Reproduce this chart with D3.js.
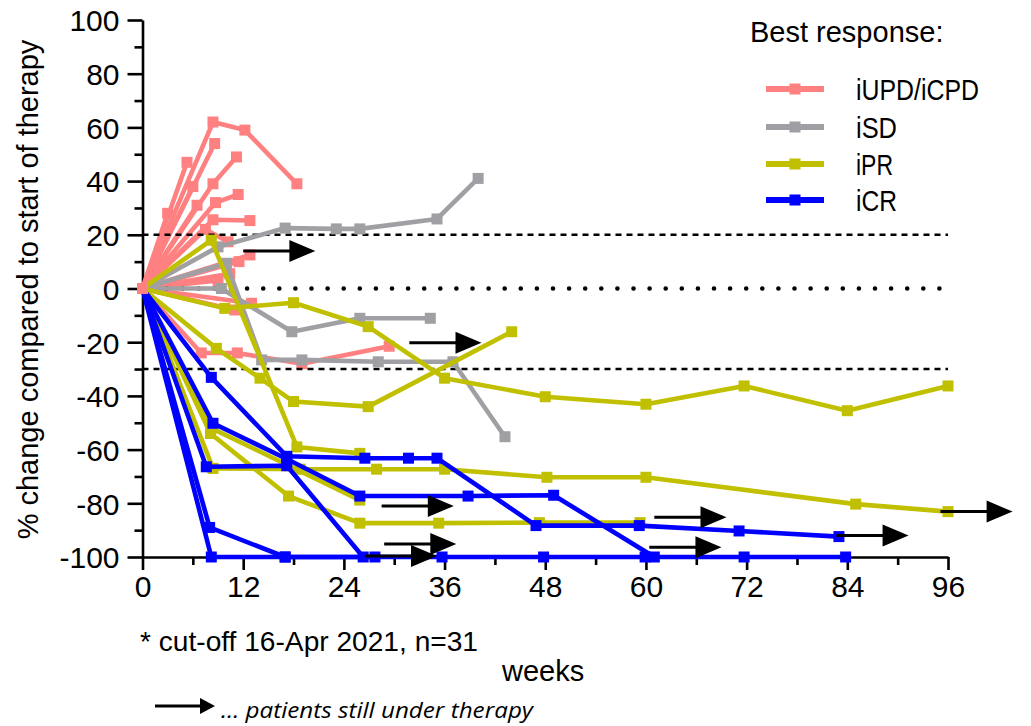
<!DOCTYPE html>
<html><head><meta charset="utf-8">
<script src="https://cdn.jsdelivr.net/npm/d3@7/dist/d3.min.js"></script>
<style>body{margin:0;background:#fff}svg{display:block}</style>
</head><body>
<script>
// Tick values
const weekTicks = [0, 12, 24, 36, 48, 60, 72, 84, 96];
const weekMinorTicks = [6, 18, 30, 42, 54, 66, 78, 90];
const pctTicks = [-100, -80, -60, -40, -20, 0, 20, 40, 60, 80, 100];
const pctMinorTicks = [-90, -70, -50, -30, -10, 10, 30, 50, 70, 90];

// Response thresholds
const dashedLevels = [20, -30];
const dottedLevels = [0];

// Legend
const responseNames = ["iUPD/iCPD", "iSD", "iPR", "iCR"];
const responseColors = ["#FF8080", "#A0A0A4", "#C0C000", "#0000FF"];

// Patients, [week, % change] per visit, grouped by best response
const upd = [
  [[0,0],[8.4,62],[12.2,59],[18.4,39]],
  [[0,0],[8.6,54]],
  [[0,0],[5.3,47]],
  [[0,0],[8.4,39],[11.2,49]],
  [[0,0],[8.7,32],[11.4,35]],
  [[0,0],[3,28]],
  [[0,0],[6,38]],
  [[0,0],[6.5,31]],
  [[0,0],[8.4,25.6],[12.8,25.3]],
  [[0,0],[7.5,22],[10.2,17.4]],
  [[0,0],[12.8,12.5]],
  [[0,0],[11.5,10]],
  [[0,0],[10.4,5.5]],
  [[0,0],[9,3]],
  [[0,0],[13,-5.5]],
  [[0,0],[7,-24],[11.3,-24],[19,-28],[29.4,-21.5]],
  [[0,0],[11,-8]]
];
const sd = [
  [[0,0],[9,15.5],[17,22.5],[23.1,22.2],[25.9,22.2],[35.1,25.9],[40,41]],
  [[0,0],[10,9.4],[14.2,-26.6],[19,-26.6],[28.1,-27.3],[37,-27.3],[43.2,-55.2]],
  [[0,0],[9.4,0],[17.8,-16.1],[25.9,-11.1],[34.3,-11.1]]
];
const pr = [
  [[0,0],[9.8,-7.4],[18,-5.3],[26.9,-14.2],[36,-33.4],[48,-40.3],[60,-43.1],[71.7,-36.3],[84,-45.5],[96,-36.3]],
  [[0,0],[8.2,18],[18.4,-59],[25.9,-61.4]],
  [[0,0],[8.8,-22.3],[14,-33.4],[18,-42.1],[26.9,-44],[44,-16.1]],
  [[0,0],[8.4,-67],[18.8,-67.3],[27.9,-67.3],[36,-67.3],[48.2,-70.3],[60,-70.3],[85,-80.3],[96,-83.1]],
  [[0,0],[8.1,-54],[17.4,-77.3],[25.9,-87.4],[35.3,-87.4],[47.3,-87.2],[59.3,-87.2]],
  [[0,0],[8.2,-52],[25.9,-78.8]]
];
const cr = [
  [[0,0],[8.2,-33.1],[17.2,-62.5],[26.5,-63.2],[31.7,-63.2],[35.1,-63.2],[46.9,-88.3],[59.2,-88.3],[71.1,-90.3],[83,-92.4]],
  [[0,0],[8.4,-50.2],[17.2,-63.5],[25.9,-77.3],[38.8,-77.3],[49,-77],[61,-100]],
  [[0,0],[7.6,-66.4],[17.2,-66],[26.3,-100]],
  [[0,0],[8,-89],[17,-100],[27.7,-100]],
  [[0,0],[8.2,-100],[17,-100],[35.7,-100],[47.8,-100],[59.9,-100],[71.7,-100],[83.8,-100]]
];

// Patients still under therapy: arrow start [week, % change]
const ongoing = [[12.0,14],[31.8,-20.2],[28.5,-81],[28.8,-95.2],[26.5,-99.6],[61.0,-85.2],[60.4,-96.4],[82.7,-92.0],[95.1,-83.1]];
const arrowWeeks = 8.6;

const W = 1031, H = 726;
const FONT = "'Liberation Sans', Arial, sans-serif";
const svg = d3.select("body").append("svg").attr("width", W).attr("height", H)
  .style("font-family", FONT);

const x = d3.scaleLinear().domain([0, 96]).range([142.5, 948]);
const y = d3.scaleLinear().domain([-100, 100]).range([557, 20]);
const plain = d => String(d);

// Axes
const xAxis = svg.append("g").attr("transform", `translate(0,${y(-100)})`)
  .call(d3.axisBottom(x).tickValues(weekTicks).tickFormat(plain).tickSize(13).tickPadding(6).tickSizeOuter(0));
svg.append("g").attr("transform", `translate(0,${y(-100)})`)
  .call(d3.axisBottom(x).tickValues(weekMinorTicks).tickSize(8).tickFormat("").tickSizeOuter(0))
  .select(".domain").remove();
const yAxis = svg.append("g").attr("transform", `translate(${x(0)},0)`)
  .call(d3.axisLeft(y).tickValues(pctTicks).tickFormat(plain).tickSize(15).tickPadding(8).tickSizeOuter(0));
svg.append("g").attr("transform", `translate(${x(0)},0)`)
  .call(d3.axisLeft(y).tickValues(pctMinorTicks).tickSize(8).tickFormat("").tickSizeOuter(0))
  .select(".domain").remove();
svg.selectAll(".domain, .tick line").attr("stroke", "#000").attr("stroke-width", 2.6);
xAxis.selectAll("text").attr("font-size", 30).attr("fill", "#000").attr("font-family", FONT);
yAxis.selectAll("text").attr("font-size", 30).attr("fill", "#000").attr("font-family", FONT).attr("dy", "0.36em");

const line = d3.line().x(d => x(d[0])).y(d => y(d[1]));
const MS = 11;

function drawGroup(data, color) {
  const g = svg.append("g");
  g.selectAll("path").data(data).join("path")
    .attr("d", line).attr("fill", "none").attr("stroke", color)
    .attr("stroke-width", 4.6).attr("stroke-linejoin", "round");
  g.selectAll("rect").data(data.flat().filter(d => d[0] > 0)).join("rect")
    .attr("x", d => x(d[0]) - MS / 2).attr("y", d => y(d[1]) - MS / 2)
    .attr("width", MS).attr("height", MS).attr("fill", color);
}

drawGroup(upd, responseColors[0]);

// Threshold lines
svg.selectAll(".dash").data(dashedLevels).join("line")
  .attr("x1", x(0)).attr("x2", x(96)).attr("y1", d => y(d)).attr("y2", d => y(d))
  .attr("stroke", "#000").attr("stroke-width", 2.4).attr("stroke-dasharray", "6,5");
svg.selectAll(".dot").data(dottedLevels).join("line")
  .attr("x1", x(0) + 8).attr("x2", x(95.5)).attr("y1", d => y(d)).attr("y2", d => y(d))
  .attr("stroke", "#000").attr("stroke-width", 4.6).attr("stroke-linecap", "round")
  .attr("stroke-dasharray", "0,16.1");

drawGroup(sd, responseColors[1]);
drawGroup(pr, responseColors[2]);
drawGroup(cr, responseColors[3]);

// Baseline marker
svg.append("rect").attr("x", x(0) - MS / 2).attr("y", y(0) - MS / 2)
  .attr("width", MS).attr("height", MS).attr("fill", responseColors[0]);

// Arrows for ongoing therapy
function arrow(g, x0, x1, yy, headLen, headHalf, sw) {
  g.append("line").attr("x1", x0).attr("x2", x1 - headLen + 2).attr("y1", yy).attr("y2", yy)
    .attr("stroke", "#000").attr("stroke-width", sw);
  g.append("path").attr("d", `M${x1},${yy}L${x1 - headLen},${yy - headHalf}L${x1 - headLen},${yy + headHalf}Z`)
    .attr("fill", "#000");
}
const ag = svg.append("g");
ongoing.forEach(d => arrow(ag, x(d[0]), x(d[0] + arrowWeeks), y(d[1]), 26, 11, 3));

// Axis titles
svg.append("text").attr("transform", `translate(38,${y(0) + 1}) rotate(-90)`)
  .attr("text-anchor", "middle").attr("font-size", 29).attr("fill", "#000")
  .text("% change compared to start of therapy");
svg.append("text").attr("x", 502).attr("y", 681).attr("font-size", 29).attr("fill", "#000").text("weeks");
svg.append("text").attr("x", 140).attr("y", 651).attr("font-size", 28).attr("fill", "#000")
  .attr("textLength", 338).attr("lengthAdjust", "spacingAndGlyphs")
  .text("* cut-off 16-Apr 2021, n=31");

// Footnote arrow
const fg = svg.append("g");
arrow(fg, 155, 215, 706, 15, 8, 3);
svg.append("text").attr("x", 221).attr("y", 718).attr("font-size", 21)
  .attr("font-style", "italic").attr("font-family", "'Open Sans', sans-serif").attr("fill", "#000")
  .attr("textLength", 312).attr("lengthAdjust", "spacingAndGlyphs")
  .text("… patients still under therapy");

// Legend
svg.append("text").attr("x", 750).attr("y", 42).attr("font-size", 29).attr("fill", "#000").text("Best response:");
const legY = [89, 127, 164, 200];
const legW = [123, 41, 37, 41];
const lg = svg.append("g");
responseNames.forEach((name, i) => {
  lg.append("line").attr("x1", 766).attr("x2", 824).attr("y1", legY[i]).attr("y2", legY[i])
    .attr("stroke", responseColors[i]).attr("stroke-width", 6);
  lg.append("rect").attr("x", 795 - MS / 2).attr("y", legY[i] - MS / 2).attr("width", MS).attr("height", MS)
    .attr("fill", responseColors[i]);
  lg.append("text").attr("x", 856).attr("y", legY[i] + 11).attr("font-size", 29).attr("fill", "#000")
    .attr("textLength", legW[i]).attr("lengthAdjust", "spacingAndGlyphs").text(name);
});
</script>
</body></html>
